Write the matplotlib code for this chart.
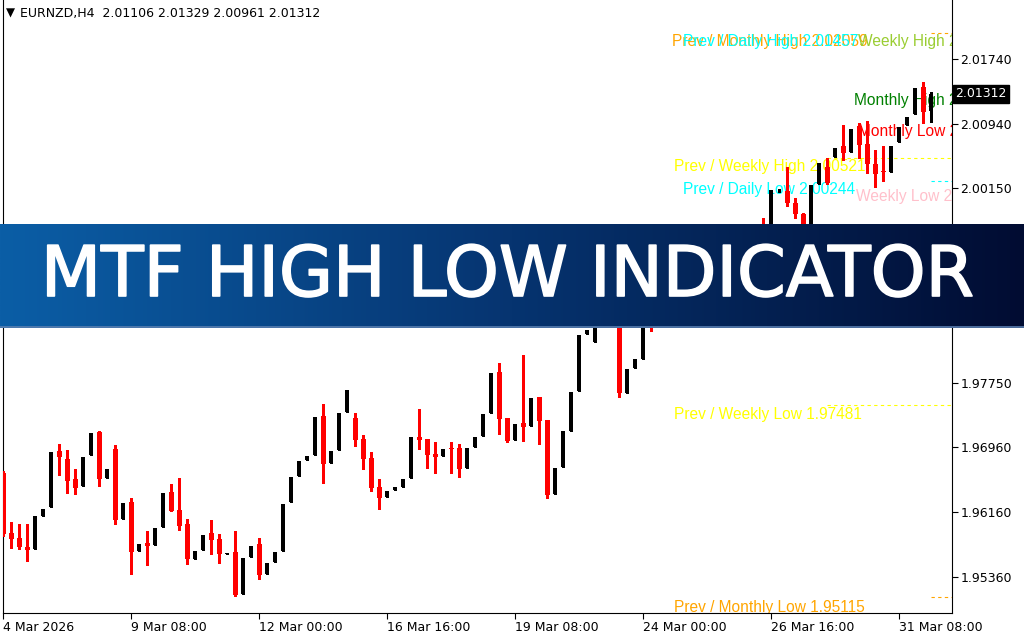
import matplotlib
matplotlib.use("Agg")
import matplotlib.pyplot as plt
import matplotlib.transforms as mtransforms
import matplotlib.patheffects as pe
import numpy as np

# ---------------- data ----------------
symbol_header = "EURNZD,H4  2.01106 2.01329 2.00961 2.01312"
current_price = 2.01312

opens = [1.96648, 1.95902, 1.95845, 1.95734, 1.95713, 1.96115, 1.96226, 1.96915, 1.96817, 1.96571,
         1.96485, 1.96870, 1.97149, 1.96583, 1.96940, 1.96078, 1.96288, 1.95685, 1.95783, 1.95758,
         1.95980, 1.96411, 1.96189, 1.96017, 1.95586, 1.95697, 1.95906, 1.95832, 1.95651, 1.95672,
         1.95155, 1.95611, 1.95771, 1.95401, 1.95549, 1.95685, 1.96288, 1.96608, 1.96805, 1.96866,
         1.97346, 1.96771, 1.96931, 1.97399, 1.97321, 1.97063, 1.96829, 1.96472, 1.96353, 1.96439,
         1.96476, 1.96587, 1.97088, 1.97063, 1.96878, 1.96857, 1.96956, 1.96952, 1.96710, 1.96968,
         1.97104, 1.97387, 1.97888, 1.97321, 1.97054, 1.97260, 1.97227, 1.97580, 1.97297, 1.96390,
         1.96722, 1.97165, 1.97658, 1.98355, 1.98261, 1.98774, 1.99100, 1.98950, 1.97633, 1.97941,
         1.98051, 1.98800, 1.98550, 1.98820, 1.99050, 1.98900, 1.99200, 1.99350, 1.99150, 1.99000,
         1.99280, 1.99450, 1.99300, 1.99500, 1.99600, 1.99650, 1.99500, 2.00122, 2.00115, 1.99968,
         1.99838, 1.99600, 2.00202, 2.00414, 2.00538, 2.00669, 2.00599, 2.00915, 2.00690, 2.00444,
         2.00362, 2.00353, 2.00719, 2.00928, 2.01063, 2.01399, 2.01106]
highs = [1.96669, 1.96041, 1.96017, 1.96017, 1.96115, 1.96201, 1.96903, 1.97001, 1.96928, 1.96694,
         1.96841, 1.97137, 1.97161, 1.96694, 1.96989, 1.96275, 1.96337, 1.95771, 1.95931, 1.95968,
         1.96398, 1.96509, 1.96583, 1.96078, 1.95685, 1.95881, 1.96066, 1.95894, 1.95660, 1.95931,
         1.95598, 1.95746, 1.95845, 1.95537, 1.95672, 1.96263, 1.96595, 1.96792, 1.96854, 1.97334,
         1.97494, 1.96915, 1.97383, 1.97666, 1.97383, 1.97112, 1.96903, 1.96571, 1.96423, 1.96472,
         1.96571, 1.97088, 1.97432, 1.97063, 1.97026, 1.96940, 1.97026, 1.97001, 1.96952, 1.97088,
         1.97371, 1.97875, 1.97998, 1.97321, 1.97248, 1.98097, 1.97568, 1.97580, 1.97297, 1.96710,
         1.97161, 1.97642, 1.98343, 1.98405, 1.98774, 1.99150, 1.99200, 1.99000, 1.97925, 1.98048,
         1.98651, 1.98900, 1.98880, 1.99100, 1.99120, 1.99250, 1.99400, 1.99420, 1.99200, 1.99320,
         1.99500, 1.99520, 1.99550, 1.99650, 1.99660, 1.99783, 2.00122, 2.00140, 2.00411, 2.00033,
         1.99850, 2.00189, 2.00464, 2.00525, 2.00645, 2.00924, 2.00879, 2.00949, 2.00981, 2.00620,
         2.00669, 2.00669, 2.00907, 2.01030, 2.01379, 2.01457, 2.01329]
lows = [1.95873, 1.95725, 1.95713, 1.95565, 1.95713, 1.96115, 1.96226, 1.96620, 1.96398, 1.96386,
        1.96485, 1.96870, 1.96485, 1.96583, 1.96017, 1.96078, 1.95401, 1.95685, 1.95512, 1.95758,
        1.95980, 1.96177, 1.95943, 1.95525, 1.95586, 1.95697, 1.95648, 1.95537, 1.95651, 1.95131,
        1.95155, 1.95611, 1.95340, 1.95401, 1.95549, 1.95685, 1.96288, 1.96608, 1.96805, 1.96866,
        1.96521, 1.96771, 1.96931, 1.97399, 1.96981, 1.96697, 1.96427, 1.96205, 1.96353, 1.96439,
        1.96476, 1.96587, 1.96944, 1.96710, 1.96648, 1.96857, 1.96648, 1.96599, 1.96710, 1.96968,
        1.97104, 1.97387, 1.97128, 1.97030, 1.97054, 1.97042, 1.97227, 1.97005, 1.96341, 1.96390,
        1.96722, 1.97165, 1.97658, 1.98355, 1.98261, 1.98700, 1.98850, 1.97584, 1.97633, 1.97941,
        1.98051, 1.98396, 1.98500, 1.98780, 1.98850, 1.98870, 1.99150, 1.99100, 1.98950, 1.98960,
        1.99230, 1.99250, 1.99260, 1.99450, 1.99400, 1.99450, 1.99480, 2.00100, 1.99925, 1.99779,
        1.99600, 1.99580, 2.00202, 2.00202, 2.00538, 2.00497, 2.00599, 2.00518, 2.00333, 2.00161,
        2.00242, 2.00353, 2.00719, 2.00928, 2.01063, 2.00949, 2.00961]
closes = [1.95894, 1.95836, 1.95737, 1.95700, 1.96115, 1.96201, 1.96903, 1.96841, 1.96546, 1.96460,
          1.96841, 1.97137, 1.96571, 1.96694, 1.96066, 1.96275, 1.95672, 1.95771, 1.95746, 1.95968,
          1.96398, 1.96177, 1.95992, 1.95586, 1.95685, 1.95881, 1.95820, 1.95648, 1.95660, 1.95143,
          1.95598, 1.95746, 1.95389, 1.95537, 1.95672, 1.96263, 1.96595, 1.96792, 1.96854, 1.97334,
          1.96755, 1.96915, 1.97383, 1.97666, 1.97054, 1.96820, 1.96464, 1.96341, 1.96423, 1.96472,
          1.96571, 1.97088, 1.97054, 1.96870, 1.96845, 1.96940, 1.96944, 1.96697, 1.96952, 1.97088,
          1.97371, 1.97875, 1.97313, 1.97042, 1.97248, 1.97214, 1.97568, 1.97288, 1.96377, 1.96710,
          1.97161, 1.97642, 1.98343, 1.98405, 1.98774, 1.99100, 1.98900, 1.97633, 1.97925, 1.98048,
          1.98651, 1.98550, 1.98820, 1.99050, 1.98900, 1.99200, 1.99350, 1.99150, 1.99000, 1.99280,
          1.99450, 1.99300, 1.99500, 1.99600, 1.99450, 1.99500, 2.00122, 2.00130, 1.99968, 1.99829,
          1.99650, 2.00189, 2.00464, 2.00210, 2.00645, 2.00587, 2.00879, 2.00682, 2.00444, 2.00325,
          2.00346, 2.00669, 2.00907, 2.01030, 2.01379, 2.01091, 2.01312]

yticks = [2.01740, 2.00940, 2.00150, 1.99350, 1.98550, 1.97750, 1.96960, 1.96160, 1.95360]
xtick_bars = [0, 16, 32, 48, 64, 80, 96, 112]
xtick_labels = ["4 Mar 2026", "9 Mar 08:00", "12 Mar 00:00", "16 Mar 16:00",
                "19 Mar 08:00", "24 Mar 00:00", "26 Mar 16:00", "31 Mar 08:00"]

prev_names = ["Prev / Monthly High", "Prev / Daily High", "Prev / Weekly High",
              "Prev / Daily Low", "Prev / Weekly Low", "Prev / Monthly Low"]
prev_values = [2.02059, 2.01457, 2.00521, 2.00244, 1.97481, 1.95115]
prev_colors = ["#FFA500", "#00FFFF", "#FFFF00", "#00FFFF", "#FFFF00", "#FFA500"]

cur_names = ["Weekly High", "Monthly High", "Monthly Low", "Weekly Low"]
cur_values = [2.01457, 2.01329, 2.00961, 2.00161]
cur_colors = ["#9ACD32", "#008000", "#FF0000", "#FFC0CB"]

banner_title = "MTF HIGH LOW INDICATOR"

# ---------------- layout ----------------
W, H = 1024, 640
fig = plt.figure(figsize=(W / 100, H / 100), dpi=100)
fig.patch.set_facecolor("white")

L, R, T, B = 3, 952, 0, 613
ax = fig.add_axes([L / W, (H - B) / H, (R - L) / W, (B - T) / H])
ax.set_facecolor("white")

bar_x0, bar_dx = 3.3, 8.0        # pixel centre of bar 0, pixel spacing
y_top, y_bot = 2.024662, 1.949214
ax.set_xlim((L - bar_x0) / bar_dx, (R - bar_x0) / bar_dx)
ax.set_ylim(y_bot, y_top)


def px_bar(px):
    return (px - bar_x0) / bar_dx


def px_price(py):
    return y_top - (py - T) / (B - T) * (y_top - y_bot)


o = np.array(opens)
h = np.array(highs)
lo = np.array(lows)
c = np.array(closes)
x = np.arange(len(o))
up = c >= o
min_body = 0.00011

ax.vlines(x[up], lo[up], h[up], colors="black", linewidth=0.75, zorder=5, antialiased=False)
ax.vlines(x[~up], lo[~up], h[~up], colors="red", linewidth=0.75, zorder=5, antialiased=False)
ax.bar(x[up], np.maximum(c - o, min_body)[up], bottom=o[up], width=0.5,
       color="black", linewidth=0, zorder=6, antialiased=False)
ax.bar(x[~up], np.maximum(o - c, min_body)[~up], bottom=c[~up], width=0.64,
       color="red", linewidth=0, zorder=6, antialiased=False)

# level lines (visible ones) and labels
line_start_px = {0: 931, 2: 827, 3: 931, 4: 827, 5: 931}
text_pos_px = [(672, 41), (683, 41), (674, 167), (683, 189.5), (674, 414), (674, 607)]
for i, (name, val, col) in enumerate(zip(prev_names, prev_values, prev_colors)):
    if i in line_start_px:
        ax.plot([px_bar(line_start_px[i]), px_bar(R + 5)], [val, val], color=col,
                linewidth=0.8, linestyle=(0, (3, 3)), zorder=3)
    tx, ty = text_pos_px[i]
    ax.text(px_bar(tx), px_price(ty), f"{name} {val:.5f}", color=col, fontsize=11.2,
            family="Liberation Sans", ha="left", va="center", zorder=2, clip_on=True)

cur_text_px = [(858, 41), (854, 101), (858, 131.5), (856, 196)]
for (name, val, col), (tx, ty) in zip(zip(cur_names, cur_values, cur_colors), cur_text_px):
    ax.text(px_bar(tx), px_price(ty), f"{name} {val:.5f}", color=col, fontsize=11.2,
            family="Liberation Sans", ha="left", va="center", zorder=2, clip_on=True)

# axes styling
ax.spines["top"].set_visible(False)
for s in ["left", "right", "bottom"]:
    ax.spines[s].set_linewidth(0.8)
    ax.spines[s].set_color("black")

ax.yaxis.tick_right()
ax.set_yticks(yticks)
ax.set_yticklabels([f"{v:.5f}" for v in yticks])
ax.tick_params(axis="y", direction="out", length=4, width=0.8, pad=2, labelsize=9)
ax.set_xticks(xtick_bars)
ax.set_xticklabels(xtick_labels)
ax.tick_params(axis="x", direction="out", length=4, width=0.8, pad=2, labelsize=9)
for lab in ax.get_xticklabels():
    lab.set_horizontalalignment("left")

# current price tag
tr = mtransforms.blended_transform_factory(ax.transAxes, ax.transData)
ax.text(1.0035, current_price, f"{current_price:.5f}", transform=tr, color="white",
        fontsize=9, ha="left", va="center", clip_on=False, zorder=10,
        bbox=dict(boxstyle="square,pad=0.2", fc="black", ec="black"))

# header
fig.text(6 / W, 1 - 13 / H, "\u25BC", fontsize=8.5, color="black", va="center", ha="left")
fig.text(20 / W, 1 - 14 / H, symbol_header, fontsize=9, color="black", va="center", ha="left",
         bbox=dict(boxstyle="square,pad=0.1", fc="white", ec="none"))

# banner
by0, by1 = 224, 328
bax = fig.add_axes([0, (H - by1) / H, 1, (by1 - by0) / H])
left_rgb = np.array([11, 94, 166]) / 255
mid_rgb = np.array([6, 52, 112]) / 255
right_rgb = np.array([1, 12, 50]) / 255
t = np.linspace(0, 1, 512)[:, None]
grad = np.where(t < 0.5, left_rgb + (mid_rgb - left_rgb) * (t / 0.5),
                mid_rgb + (right_rgb - mid_rgb) * ((t - 0.5) / 0.5))
bax.imshow(grad[None, :, :], aspect="auto", extent=[0, 1, 0, 1], interpolation="bilinear")
bax.plot([0, 1], [0.005, 0.005], color="#5a7fb0", linewidth=1.2, transform=bax.transAxes)
bax.set_xlim(0, 1)
bax.set_ylim(0, 1)
bax.axis("off")
title = bax.text(507.5 / W, (by1 - 296) / (by1 - by0), banner_title, color="white",
                 fontsize=48, family="DejaVu Sans", ha="center", va="baseline",
                 path_effects=[pe.withStroke(linewidth=1.2, foreground="white")])
fig.canvas.draw()
bb = title.get_window_extent(fig.canvas.get_renderer())
title.set_fontsize(48 * 932.0 / bb.width)

fig.savefig("out.png", dpi=100, facecolor="white")
